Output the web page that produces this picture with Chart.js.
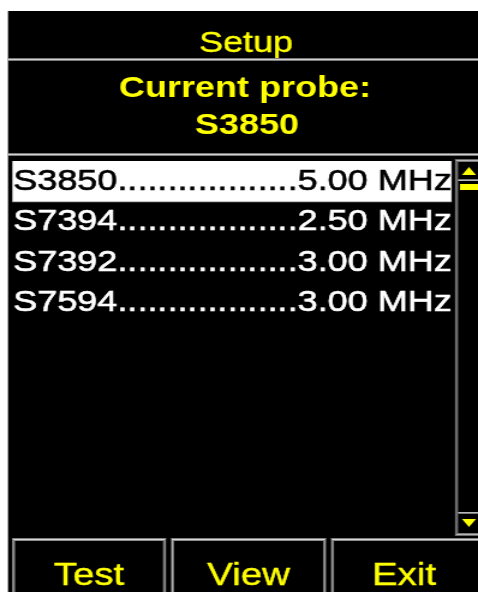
<!DOCTYPE html>
<html><head><meta charset="utf-8">
<script src="https://cdn.jsdelivr.net/npm/chart.js@4/dist/chart.umd.min.js"></script>
<style>
html,body{margin:0;padding:0;background:#fff;overflow:hidden}
#c{position:absolute;left:0;top:0;width:478px;height:592px}
</style>
</head><body>
<canvas id="c" width="398" height="592" style="width:478px;height:592px"></canvas>
<script>
// ---- data ----
const screenTitle = 'Setup';
const currentLabel = 'Current probe:';
const currentProbe = 'S3850';
const probes = ['S3850', 'S7394', 'S7392', 'S7594'];
const freqs = [5.00, 2.50, 3.00, 3.00];
const unit = 'MHz';
const selectedIndex = 0;
const buttons = ['Test', 'View', 'Exit'];
const dotCount = 18;
const rowLabels = probes.map((p, i) => p + '.'.repeat(dotCount) + freqs[i].toFixed(2) + ' ' + unit);
const highlight = probes.map((p, i) => (i === selectedIndex ? 1 : 0));

// ---- drawing helpers (screen px -> canvas px; screen is stretched horizontally) ----
const SX = 478 / 398;
const X = v => v / SX;
const FONT = '"Liberation Sans", Arial, sans-serif';
const YELLOW = '#ffff00';

function frame(ctx, x1, y1, x2, y2, cols) {
  cols.forEach((c, i) => {
    ctx.fillStyle = c;
    const w = X(x2 - i) - X(x1 + i);
    ctx.fillRect(X(x1 + i), y1 + i, w, 1);
    ctx.fillRect(X(x1 + i), y2 - 1 - i, w, 1);
    ctx.fillRect(X(x1 + i), y1 + i, X(1), y2 - y1 - 2 * i);
    ctx.fillRect(X(x2 - 1 - i), y1 + i, X(1), y2 - y1 - 2 * i);
  });
}
function hband(ctx, x1, x2, y, cols) {
  cols.forEach((c, i) => { ctx.fillStyle = c; ctx.fillRect(X(x1), y + i, X(x2) - X(x1), 1); });
}
function tri(ctx, cx, y1, y2, hw, up) {
  ctx.fillStyle = YELLOW;
  ctx.beginPath();
  if (up) { ctx.moveTo(X(cx), y1); ctx.lineTo(X(cx + hw), y2); ctx.lineTo(X(cx - hw), y2); }
  else { ctx.moveTo(X(cx - hw), y1); ctx.lineTo(X(cx + hw), y1); ctx.lineTo(X(cx), y2); }
  ctx.closePath(); ctx.fill();
}
function heavyText(ctx, txt, x, y, sw) {
  ctx.fillText(txt, x, y);
  ctx.strokeStyle = ctx.fillStyle; ctx.lineWidth = sw; ctx.lineJoin = 'round';
  ctx.strokeText(txt, x, y);
}

const screenPlugin = {
  id: 'screen',
  beforeDraw(chart) {
    const ctx = chart.ctx;
    ctx.save();
    ctx.fillStyle = '#fff'; ctx.fillRect(0, 0, chart.width, chart.height);
    ctx.fillStyle = '#000'; ctx.fillRect(X(8), 11, X(478) - X(8), 592 - 11);
    ctx.fillStyle = YELLOW; ctx.textAlign = 'center'; ctx.textBaseline = 'alphabetic';
    ctx.font = '30px ' + FONT; heavyText(ctx, screenTitle, X(246), 52, 0.35);
    hband(ctx, 8, 478, 58, ['#7c7c7c', '#d0d0d0', '#7c7c7c']);
    ctx.fillStyle = YELLOW;
    ctx.font = 'bold 30px ' + FONT; ctx.fillText(currentLabel, X(245), 97);
    ctx.fillText(currentProbe, X(247), 134);
    hband(ctx, 8, 478, 153, ['#7c7c7c', '#d0d0d0', '#7c7c7c']);
    ctx.restore();
  },
  afterDraw(chart) {
    const ctx = chart.ctx;
    ctx.save();
    // scrollbar
    frame(ctx, 455, 159, 481, 536, ['#6c6c6c', '#b8b8b8', '#7c7c7c']);
    hband(ctx, 458, 478, 179, ['#7c7c7c', '#b8b8b8']);
    hband(ctx, 458, 478, 512, ['#b8b8b8', '#7c7c7c']);
    tri(ctx, 469, 167, 175, 7, true);
    ctx.fillStyle = YELLOW; ctx.fillRect(X(460), 184, X(478) - X(460), 6);
    tri(ctx, 469, 519, 527, 7, false);
    // buttons
    const bx = [[12, 166], [171, 326], [331, 481]];
    ctx.font = '32px ' + FONT; ctx.textAlign = 'center'; ctx.textBaseline = 'alphabetic';
    bx.forEach((b, i) => {
      frame(ctx, b[0], 538, b[1], 600, ['#808080', '#d8d8d8', '#8c8c8c']);
      ctx.fillStyle = YELLOW;
      heavyText(ctx, buttons[i], X((b[0] + b[1]) / 2 - (i === 2 ? 2 : 0)), 585, 0.4);
    });
    ctx.restore();
  }
};

new Chart(document.getElementById('c'), {
  type: 'bar',
  data: {
    labels: rowLabels,
    datasets: [{
      data: highlight,
      backgroundColor: '#ffffff',
      borderColor: '#8c8c8c',
      borderWidth: 1,
      borderSkipped: false,
      barThickness: 42
    }]
  },
  options: {
    indexAxis: 'y',
    responsive: false,
    animation: false,
    events: [],
    layout: {padding: {left: X(12), right: 398 - X(452), top: 161, bottom: 592 - 323}},
    plugins: {legend: {display: false}, tooltip: {enabled: false}},
    scales: {
      x: {display: false, min: 0, max: 1},
      y: {
        position: 'left',
        grid: {display: false},
        border: {display: false},
        afterFit(s) { s.width = 0; },
        ticks: {
          z: 1,
          mirror: true,
          padding: 1,
          autoSkip: false,
          crossAlign: 'near',
          color: c => (c.index === selectedIndex ? '#000000' : '#ffffff'),
          textStrokeColor: c => (c.index === selectedIndex ? '#000000' : '#ffffff'),
          textStrokeWidth: 0.6,
          font: {family: FONT, size: 30}
        }
      }
    }
  },
  plugins: [screenPlugin]
});
</script>
</body></html>
